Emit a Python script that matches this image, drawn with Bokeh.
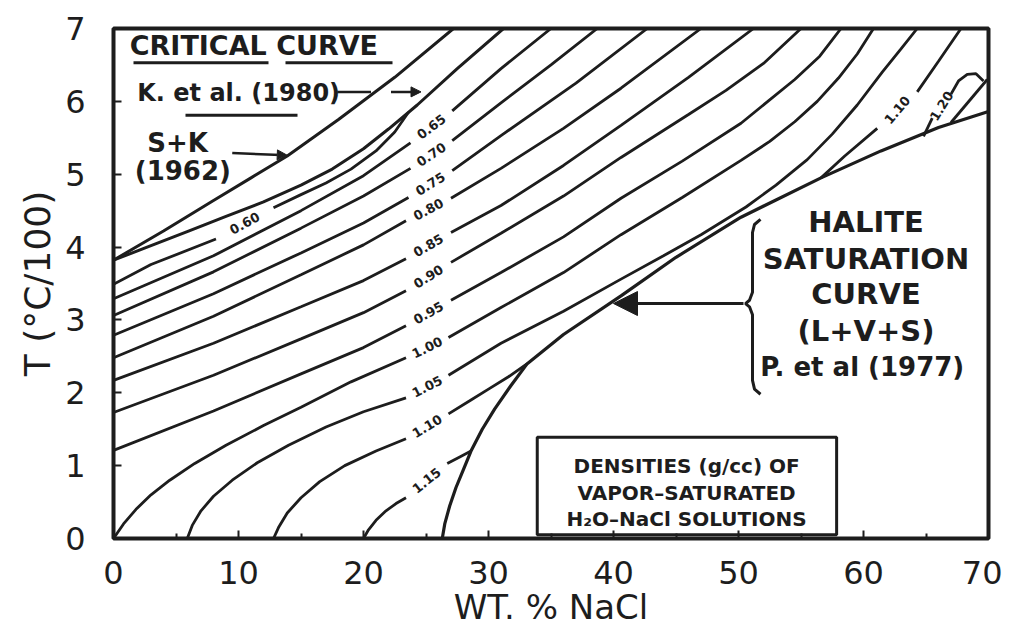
import math
from bokeh.plotting import figure
from bokeh.models import Range1d, FixedTicker, Label, Arrow, NormalHead
from bokeh.core.properties import value
from bokeh.embed import file_html
from bokeh.resources import INLINE

# ---------------- data (wt% NaCl, T in degC/100) ----------------
x_ticks = [0, 10, 20, 30, 40, 50, 60, 70]
x_minor = [5, 15, 25, 35, 45, 55, 65]
y_ticks = [0, 1, 2, 3, 4, 5, 6, 7]

# critical curves
sk1962_x = [0, 4, 8, 11, 13.9, 18, 22.5, 27.2]
sk1962_y = [3.82, 4.22, 4.64, 4.95, 5.25, 5.75, 6.33, 7.0]
k1980_x = [0, 3, 6, 9, 12, 15, 17.5, 20, 22, 24.3, 27.5, 31.2]
k1980_y = [3.82, 4.02, 4.22, 4.42, 4.62, 4.85, 5.07, 5.35, 5.62, 5.95, 6.45, 7.0]

# halite saturation curve (L+V+S)
halite_x = [26.3, 26.5, 26.9, 27.4, 28.0, 28.6, 29.5, 30.5, 31.8, 33.1, 36.0, 40.6, 45.0, 50.2, 56.6, 61.4, 66.0, 70.0]
halite_y = [0.0, 0.2, 0.45, 0.7, 0.95, 1.2, 1.5, 1.78, 2.1, 2.4, 2.8, 3.33, 3.86, 4.41, 4.95, 5.32, 5.64, 5.86]

# isochores: lower part (before label) and upper part (after label)
iso_labels = ["0.60", "0.65", "0.70", "0.75", "0.80", "0.85", "0.90", "0.95", "1.00", "1.05", "1.10", "1.15"]
iso_low_x = [
    [0, 3, 8.2],
    [0, 8, 15, 20, 23.76],
    [0, 8, 15, 20, 23.76],
    [0, 8, 15, 20, 23.6],
    [0, 8, 15, 20, 23.4],
    [0, 8, 15, 20, 23.4],
    [0, 8, 15, 20, 23.4],
    [0, 8, 15, 20, 23.4],
    [0, 0.8, 1.8, 3, 4.5, 6.5, 9, 12, 15, 19, 23.4],
    [5.9, 6.3, 7, 8, 9.5, 11.5, 14, 17, 20, 23.4],
    [12.8, 13.2, 13.9, 15, 16.5, 18.5, 21, 23.4],
    [20.0, 20.4, 21.0, 21.8, 22.6, 23.4],
]
iso_low_y = [
    [3.49, 3.76, 4.11],
    [3.29, 3.88, 4.50, 4.98, 5.43],
    [3.06, 3.66, 4.26, 4.70, 5.08],
    [2.79, 3.36, 3.92, 4.33, 4.68],
    [2.48, 3.05, 3.62, 4.03, 4.36],
    [2.17, 2.68, 3.18, 3.54, 3.84],
    [1.73, 2.24, 2.74, 3.10, 3.40],
    [1.21, 1.75, 2.26, 2.62, 2.92],
    [0.0, 0.2, 0.4, 0.6, 0.8, 1.03, 1.28, 1.55, 1.8, 2.15, 2.48],
    [0.0, 0.18, 0.38, 0.58, 0.8, 1.04, 1.28, 1.53, 1.74, 1.93],
    [0.0, 0.15, 0.35, 0.56, 0.78, 1.0, 1.2, 1.37],
    [0.0, 0.12, 0.25, 0.38, 0.48, 0.56],
]
iso_high_x = [
    [12.8, 15, 17, 19, 21, 22.5, 23.6],
    [27.1, 31.0, 35.0],
    [27.1, 31.0, 35.0, 38.7],
    [27.1, 31.0, 37.0, 42.7],
    [27.0, 31.0, 36.0, 40.6, 47.0],
    [27.0, 31.0, 36.0, 40.6, 46.0, 51.2],
    [27.0, 31.0, 36.0, 40.6, 46.0, 49.0, 52.0, 55.0],
    [27.0, 31.0, 36.0, 40.6, 45.5, 50.2, 54.5, 56.5, 58.2],
    [26.8, 31.0, 36.0, 40.6, 45.5, 50.2, 52.5, 54.5, 56.3, 58.0, 59.5, 60.8],
    [26.8, 31.0, 36.0, 40.6, 44.0, 47.0, 50.6, 53.0, 55.5, 57.5, 59.5, 61.5, 63.0, 64.3],
    [26.8, 28.5, 30.0, 31.6, 33.1],
    [26.7, 27.7, 28.6],
]
iso_high_y = [
    [4.54, 4.72, 4.88, 5.07, 5.32, 5.58, 5.85],
    [5.87, 6.45, 7.0],
    [5.46, 5.98, 6.5, 7.0],
    [5.05, 5.53, 6.25, 7.0],
    [4.67, 5.08, 5.63, 6.18, 7.0],
    [4.20, 4.57, 5.12, 5.67, 6.33, 7.0],
    [3.79, 4.19, 4.70, 5.23, 5.82, 6.15, 6.52, 7.0],
    [3.27, 3.65, 4.14, 4.67, 5.18, 5.70, 6.30, 6.62, 7.0],
    [2.76, 3.17, 3.65, 4.17, 4.68, 5.19, 5.45, 5.72, 6.0, 6.32, 6.65, 7.0],
    [2.24, 2.68, 3.12, 3.56, 3.88, 4.17, 4.55, 4.85, 5.2, 5.55, 5.95, 6.4, 6.72, 7.0],
    [1.71, 1.89, 2.05, 2.22, 2.4],
    [1.03, 1.12, 1.2],
]
iso_label_angle = [28, 37, 34, 32, 28, 30, 32, 29, 26, 27, 31, 39]

# isochores emerging above the halite curve (upper right)
upper_labels = ["1.10", "1.20"]
upper_low_x = [[56.6, 58.5, 61.1], [64.8, 65.5]]
upper_low_y = [[4.95, 5.25, 5.63], [5.52, 5.77]]
upper_high_x = [[64.3, 66.0, 67.8], [67.0, 67.6, 68.3, 69.0, 69.6]]
upper_high_y = [[6.13, 6.55, 7.0], [6.10, 6.28, 6.37, 6.38, 6.28]]
upper_label_angle = [50, 58]
corner_x = [67.0, 69.9]
corner_y = [5.71, 6.30]

INK = "#1d1d1d"
FONT = "DejaVu Sans"

p = figure(width=1002, height=638, x_range=Range1d(0, 70), y_range=Range1d(0, 7),
           output_backend="svg", toolbar_location=None,
           min_border_left=113, min_border_right=14, min_border_top=28, min_border_bottom=100)
p.grid.visible = False
p.outline_line_color = INK
p.outline_line_width = 4
p.background_fill_color = "white"
p.border_fill_color = "white"

for ax in (p.xaxis[0], p.yaxis[0]):
    ax.axis_line_color = None
    ax.major_tick_in = 8
    ax.major_tick_out = 0
    ax.minor_tick_in = 5
    ax.minor_tick_out = 0
    ax.major_tick_line_width = 2
    ax.minor_tick_line_width = 2
    ax.major_tick_line_color = INK
    ax.minor_tick_line_color = INK
    ax.major_label_text_font = FONT
    ax.major_label_text_font_size = "32px"
    ax.major_label_text_color = INK
    ax.axis_label_text_font = FONT
    ax.axis_label_text_font_style = "normal"
    ax.axis_label_text_color = INK

p.xaxis.ticker = FixedTicker(ticks=x_ticks, minor_ticks=x_minor)
p.yaxis.ticker = FixedTicker(ticks=y_ticks)
p.xaxis.axis_label = "WT. % NaCl"
p.yaxis.axis_label = "T (°C/100)"
p.xaxis.axis_label_text_font_size = "34px"
p.yaxis.axis_label_text_font_size = "36px"
p.xaxis.major_label_standoff = 22
p.xaxis.axis_label_standoff = 0
p.yaxis.major_label_standoff = 28
p.yaxis.axis_label_standoff = 4

# curves
p.line(sk1962_x, sk1962_y, line_color=INK, line_width=3)
p.line(k1980_x, k1980_y, line_color=INK, line_width=3)
p.line(halite_x, halite_y, line_color=INK, line_width=3.2)

lx, ly, lt, la = [], [], [], []
for i, lab in enumerate(iso_labels):
    p.line(iso_low_x[i], iso_low_y[i], line_color=INK, line_width=2.8)
    p.line(iso_high_x[i], iso_high_y[i], line_color=INK, line_width=2.8)
    lx.append((iso_low_x[i][-1] + iso_high_x[i][0]) / 2)
    ly.append((iso_low_y[i][-1] + iso_high_y[i][0]) / 2)
    lt.append(lab)
    la.append(math.radians(iso_label_angle[i]))
for i, lab in enumerate(upper_labels):
    p.line(upper_low_x[i], upper_low_y[i], line_color=INK, line_width=2.8)
    p.line(upper_high_x[i], upper_high_y[i], line_color=INK, line_width=2.8)
    lx.append((upper_low_x[i][-1] + upper_high_x[i][0]) / 2)
    ly.append((upper_low_y[i][-1] + upper_high_y[i][0]) / 2)
    lt.append(lab)
    la.append(math.radians(upper_label_angle[i]))
p.line(corner_x, corner_y, line_color=INK, line_width=2.8)

p.text(x=lx, y=ly, text=lt, angle=la, text_font=value(FONT), text_font_style="bold",
       text_font_size="13px", text_color=INK, text_align="center", text_baseline="middle")

# ---------------- annotations ----------------
def lab(x, y, t, size, align="left", style="bold"):
    p.add_layout(Label(x=x, y=y, text=t, text_font=FONT, text_font_size=size,
                       text_font_style=style, text_color=INK, text_align=align,
                       text_baseline="middle"))

lab(1.3, 6.76, "CRITICAL CURVE", "27px")
p.line([1.6, 12.4], [6.53, 6.53], line_color=INK, line_width=3)
p.line([13.76, 22.32], [6.53, 6.53], line_color=INK, line_width=3)
lab(1.9, 6.12, "K. et al. (1980)", "24px")
p.line([17.9, 20.6], [6.13, 6.13], line_color=INK, line_width=2.5)
p.add_layout(Arrow(end=NormalHead(size=10, fill_color=INK, line_color=INK),
                   x_start=22.2, y_start=6.13, x_end=24.6, y_end=6.13,
                   line_color=INK, line_width=2.5))
p.line([5.76, 14.72], [5.81, 5.81], line_color=INK, line_width=3)
lab(2.7, 5.43, "S+K", "26px")
lab(1.7, 5.05, "(1962)", "26px")
p.add_layout(Arrow(end=NormalHead(size=10, fill_color=INK, line_color=INK),
                   x_start=9.5, y_start=5.29, x_end=13.9, y_end=5.26,
                   line_color=INK, line_width=2.5))

for t, yy in zip(["HALITE", "SATURATION", "CURVE", "(L+V+S)"], [4.34, 3.84, 3.36, 2.85]):
    lab(60.2, yy, t, "29px", align="center")
lab(59.9, 2.36, "P. et al (1977)", "26px", align="center")

# brace
p.line([51.76, 51.28, 51.12, 51.12, 50.88, 50.56, 50.88, 51.12, 51.12, 51.28, 51.76],
       [4.38, 4.31, 4.20, 3.38, 3.27, 3.225, 3.18, 3.07, 2.17, 2.05, 1.98],
       line_color=INK, line_width=3)
p.add_layout(Arrow(end=NormalHead(size=24, fill_color=INK, line_color=INK),
                   x_start=50.4, y_start=3.225, x_end=40.0, y_end=3.225,
                   line_color=INK, line_width=3))

# legend box
p.quad(left=33.9, right=57.85, bottom=0.05, top=1.39, fill_color="white",
       line_color=INK, line_width=3)
for t, yy in zip(["DENSITIES (g/cc) OF", "VAPOR–SATURATED", "H₂O–NaCl SOLUTIONS"],
                 [0.99, 0.63, 0.27]):
    lab(45.85, yy, t, "20px", align="center")

open("out.html", "w").write(file_html(p, INLINE))
